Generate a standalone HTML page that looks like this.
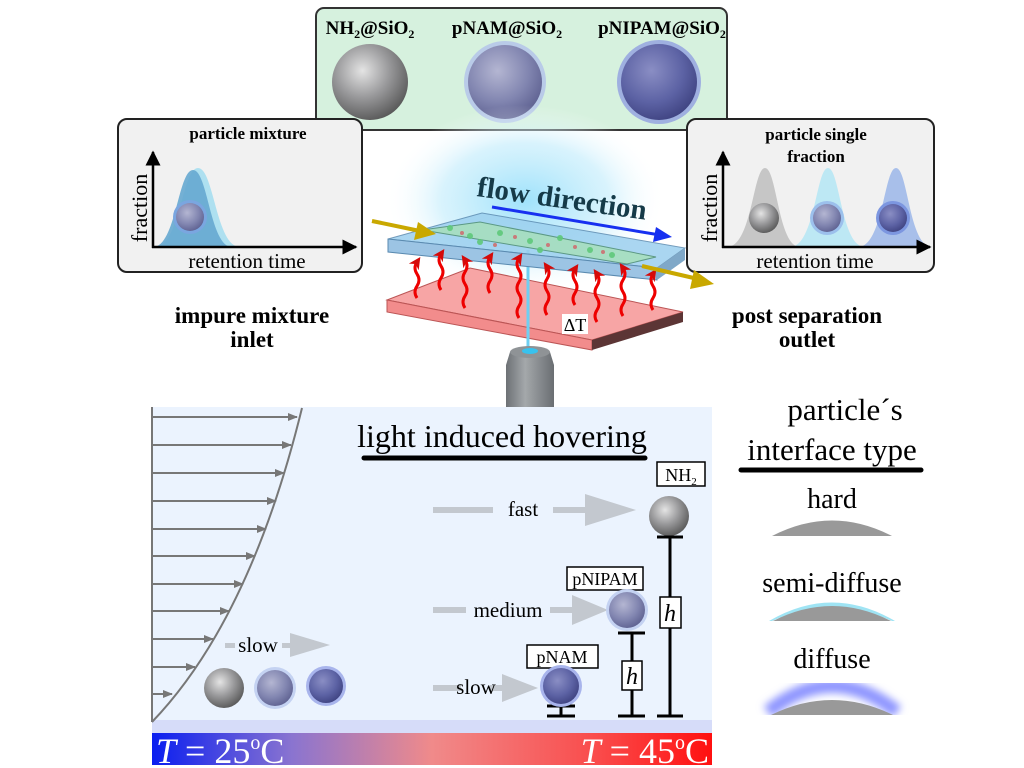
<!DOCTYPE html>
<html><head><meta charset="utf-8"><style>body{margin:0;background:#fff}svg{display:block}text{font-family:"Liberation Serif",serif}</style></head>
<body>
<svg width="1024" height="768" viewBox="0 0 1024 768" xmlns="http://www.w3.org/2000/svg">
<defs>
<radialGradient id="g1" cx="0.4" cy="0.35" r="0.7"><stop offset="0" stop-color="#e4e4e4"/><stop offset="0.5" stop-color="#9a9a9c"/><stop offset="1" stop-color="#555"/></radialGradient>
<radialGradient id="g2" cx="0.4" cy="0.35" r="0.7"><stop offset="0" stop-color="#b4b6d2"/><stop offset="0.6" stop-color="#8185b0"/><stop offset="1" stop-color="#5d6090"/></radialGradient>
<radialGradient id="g3" cx="0.4" cy="0.35" r="0.7"><stop offset="0" stop-color="#8a8ec4"/><stop offset="0.6" stop-color="#5c62a4"/><stop offset="1" stop-color="#3e4280"/></radialGradient>
<radialGradient id="glow" cx="0.5" cy="0.5" r="0.5"><stop offset="0" stop-color="#9fe2fb"/><stop offset="0.6" stop-color="#c8eefc" stop-opacity="0.7"/><stop offset="1" stop-color="#fff" stop-opacity="0"/></radialGradient>
<linearGradient id="tb" x1="0" x2="1"><stop offset="0" stop-color="#0a1ef0"/><stop offset="0.25" stop-color="#8a74d0"/><stop offset="0.5" stop-color="#f08a8a"/><stop offset="0.8" stop-color="#fa4a4a"/><stop offset="1" stop-color="#ff1010"/></linearGradient>
<linearGradient id="obj" x1="0" x2="1"><stop offset="0" stop-color="#6d7175"/><stop offset="0.4" stop-color="#a4a8ab"/><stop offset="1" stop-color="#6a6e72"/></linearGradient>
<filter id="blur"><feGaussianBlur stdDeviation="4"/></filter>
<marker id="ah" viewBox="0 0 10 10" refX="9" refY="5" markerWidth="6" markerHeight="6" orient="auto"><path d="M0,0L10,5L0,10z" fill="#000"/></marker>
<marker id="ag" viewBox="0 0 10 10" refX="9" refY="5" markerWidth="5" markerHeight="5" orient="auto"><path d="M0,1L10,5L0,9z" fill="#777"/></marker>
<marker id="ar" viewBox="0 0 10 10" refX="5" refY="5" markerWidth="4" markerHeight="4" orient="auto"><path d="M0,0L10,5L0,10L3,5z" fill="#d40a0a"/></marker>
</defs>

<rect x="316" y="8" width="411" height="122" rx="8" fill="#d6f1de" stroke="#333" stroke-width="2"/>
<text x="370" y="34" font-size="19" font-weight="bold" text-anchor="middle">NH<tspan font-size="12" dy="4">2</tspan><tspan dy="-4">@SiO</tspan><tspan font-size="12" dy="4">2</tspan></text>
<text x="507" y="34" font-size="19" font-weight="bold" text-anchor="middle">pNAM@SiO<tspan font-size="12" dy="4">2</tspan></text>
<text x="662" y="34" font-size="19" font-weight="bold" text-anchor="middle">pNIPAM@SiO<tspan font-size="12" dy="4">2</tspan></text>
<circle cx="370" cy="82" r="38" fill="url(#g1)"/>
<circle cx="505" cy="82" r="41" fill="#b9cbe8"/><circle cx="505" cy="82" r="37" fill="url(#g2)"/>
<circle cx="659" cy="82" r="42" fill="#9fb0e0"/><circle cx="659" cy="82" r="38" fill="url(#g3)"/>

<rect x="118" y="119" width="244" height="153" rx="9" fill="#f1f1f1" stroke="#222" stroke-width="2"/>
<text x="248" y="139" font-size="17" font-weight="bold" text-anchor="middle">particle mixture</text>
<path d="M155,247 C180,247 182,168 198,168 C214,168 216,247 240,247Z" fill="#aee0f0"/>
<path d="M153,247 C176,247 178,170 193,170 C208,170 210,247 232,247Z" fill="#66a8d0" opacity="0.9"/>
<circle cx="190" cy="217" r="17" fill="#7aa6e0"/><circle cx="190" cy="217" r="14" fill="url(#g2)"/>
<line x1="153" y1="248" x2="153" y2="152" stroke="#000" stroke-width="2.5" marker-end="url(#ah)"/>
<line x1="152" y1="247" x2="356" y2="247" stroke="#000" stroke-width="2.5" marker-end="url(#ah)"/>
<text transform="translate(147,208) rotate(-90)" font-size="22" text-anchor="middle">fraction</text>
<text x="247" y="268" font-size="21" text-anchor="middle">retention time</text>
<text x="252" y="323" font-size="23" font-weight="bold" text-anchor="middle">impure mixture</text>
<text x="252" y="347" font-size="23" font-weight="bold" text-anchor="middle">inlet</text>

<rect x="687" y="119" width="247" height="153" rx="9" fill="#f1f1f1" stroke="#222" stroke-width="2"/>
<text x="816" y="140" font-size="17" font-weight="bold" text-anchor="middle">particle single</text>
<text x="816" y="162" font-size="17" font-weight="bold" text-anchor="middle">fraction</text>
<path d="M727,247 C752,247 753,168 765,168 C777,168 778,247 800,247Z" fill="#c6c6c6"/>
<path d="M790,247 C815,247 816,168 828,168 C840,168 841,247 865,247Z" fill="#bde8f4"/>
<path d="M858,247 C883,247 884,168 896,168 C908,168 909,247 932,247Z" fill="#a8bfea"/>
<circle cx="764" cy="218" r="15" fill="url(#g1)"/>
<circle cx="827" cy="218" r="17" fill="#9cc0ec"/><circle cx="827" cy="218" r="14" fill="url(#g2)"/>
<circle cx="893" cy="218" r="17" fill="#7c96e0"/><circle cx="893" cy="218" r="14" fill="url(#g3)"/>
<line x1="723" y1="248" x2="723" y2="152" stroke="#000" stroke-width="2.5" marker-end="url(#ah)"/>
<line x1="722" y1="247" x2="930" y2="247" stroke="#000" stroke-width="2.5" marker-end="url(#ah)"/>
<text transform="translate(717,208) rotate(-90)" font-size="22" text-anchor="middle">fraction</text>
<text x="815" y="268" font-size="21" text-anchor="middle">retention time</text>
<text x="807" y="323" font-size="23" font-weight="bold" text-anchor="middle">post separation</text>
<text x="807" y="347" font-size="23" font-weight="bold" text-anchor="middle">outlet</text>

<ellipse cx="525" cy="200" rx="140" ry="95" fill="url(#glow)"/>
<path d="M387,300 L470,268 L683,312 L592,340Z" fill="#f7a5a5" stroke="#b55" stroke-width="1"/>
<path d="M387,300 L592,340 L592,350 L387,312Z" fill="#f28c8c" stroke="#b55" stroke-width="1"/>
<path d="M592,340 L683,312 L683,322 L592,350Z" fill="#5c3535"/>
<rect x="562" y="314" width="26" height="20" fill="#fff"/>
<text x="575" y="331" font-size="18" text-anchor="middle">ΔT</text>
<line x1="528" y1="250" x2="528" y2="352" stroke="#6fcff2" stroke-width="3"/>
<path d="M510,352 L550,352 L554,365 L554,418 L506,418 L506,365Z" fill="url(#obj)"/>
<ellipse cx="530" cy="352" rx="20" ry="6" fill="#8f9396"/>
<ellipse cx="530" cy="351" rx="8" ry="3" fill="#38c2ee"/>
<path d="M388,239 L482,213 L685,248 L657,268Z" fill="#9cd0ef" opacity="0.85" stroke="#5a8ab0"/>
<path d="M388,239 L657,268 L657,280 L388,252Z" fill="#9cc4e4" stroke="#5a8ab0"/>
<path d="M657,268 L685,248 L685,260 L657,280Z" fill="#7fa8c8"/>
<path d="M422,230 L480,222 L656,257 L627,264Z" fill="#a7e0b8" opacity="0.8" stroke="#4a8a6a" stroke-width="1"/>
<g fill="#5fc87a" opacity="0.9">
<circle cx="450" cy="228" r="3"/><circle cx="470" cy="236" r="3"/><circle cx="500" cy="233" r="3"/><circle cx="530" cy="241" r="3"/><circle cx="560" cy="238" r="3"/><circle cx="590" cy="250" r="3"/><circle cx="612" cy="255" r="3"/><circle cx="540" cy="250" r="3"/><circle cx="480" cy="242" r="3"/></g>
<g fill="#c97a7a"><circle cx="462" cy="233" r="2"/><circle cx="515" cy="237" r="2"/><circle cx="548" cy="245" r="2"/><circle cx="575" cy="247" r="2"/><circle cx="603" cy="252" r="2"/><circle cx="495" cy="245" r="2"/></g>
<g fill="none" stroke="#e00" stroke-width="3" marker-end="url(#ar)">
<path d="M417,298 q-4,-6 0,-12 q4,-6 0,-12 q-4,-6 0,-12"/>
<path d="M441,290 q-4,-6 0,-12 q4,-6 0,-12 q-4,-6 0,-12"/>
<path d="M465,308 q-4,-6 0,-12 q4,-6 0,-12 q-4,-6 0,-12 q4,-6 0,-12"/>
<path d="M490,293 q-4,-6 0,-12 q4,-6 0,-12 q-4,-6 0,-12"/>
<path d="M519,318 q-4,-6 0,-12 q4,-6 0,-12 q-4,-6 0,-12 q4,-6 0,-12 q-4,-6 0,-12"/>
<path d="M547,315 q-4,-6 0,-12 q4,-6 0,-12 q-4,-6 0,-12 q4,-6 0,-12"/>
<path d="M575,305 q-4,-6 0,-12 q4,-6 0,-12 q-4,-6 0,-12"/>
<path d="M597,322 q-4,-6 0,-12 q4,-6 0,-12 q-4,-6 0,-12 q4,-6 0,-12"/>
<path d="M623,316 q-4,-6 0,-12 q4,-6 0,-12 q-4,-6 0,-12 q4,-6 0,-12"/>
<path d="M653,310 q-4,-6 0,-12 q4,-6 0,-12 q-4,-6 0,-12"/>
</g>
<line x1="372" y1="221" x2="420" y2="231" stroke="#c9a800" stroke-width="4"/><path d="M418,222 L436,234 L414,240Z" fill="#c9a800"/>
<line x1="642" y1="266" x2="698" y2="279" stroke="#c9a800" stroke-width="4"/><path d="M694,270 L714,284 L690,289Z" fill="#c9a800"/>
<text transform="translate(476,196) rotate(8)" font-size="29" font-weight="bold" fill="#153a48">flow direction</text>
<line x1="492" y1="207" x2="660" y2="235" stroke="#1730f0" stroke-width="3"/><path d="M656,227 L672,237 L653,242Z" fill="#1730f0"/>

<rect x="152" y="407" width="560" height="315" fill="#ebf3fe"/>
<rect x="152" y="720" width="560" height="13" fill="#d6dcf9"/>
<rect x="152" y="733" width="560" height="32" fill="url(#tb)"/>
<text x="156" y="763" font-size="36" fill="#fff"><tspan font-style="italic">T</tspan> = 25<tspan font-size="20" dy="-14">o</tspan><tspan dy="14">C</tspan></text>
<text x="709" y="763" font-size="36" fill="#fff" text-anchor="end"><tspan font-style="italic">T</tspan> = 45<tspan font-size="20" dy="-14">o</tspan><tspan dy="14">C</tspan></text>
<line x1="152" y1="407" x2="152" y2="722" stroke="#777" stroke-width="2"/>
<path d="M302,408 Q250,620 152,722" fill="none" stroke="#777" stroke-width="2"/>
<g stroke="#777" stroke-width="2" marker-end="url(#ag)">
<line x1="152" y1="417" x2="297" y2="417"/><line x1="152" y1="445" x2="291" y2="445"/><line x1="152" y1="473" x2="284" y2="473"/><line x1="152" y1="501" x2="276" y2="501"/><line x1="152" y1="529" x2="266" y2="529"/><line x1="152" y1="556" x2="255" y2="556"/><line x1="152" y1="584" x2="243" y2="584"/><line x1="152" y1="611" x2="229" y2="611"/><line x1="152" y1="639" x2="213" y2="639"/><line x1="152" y1="667" x2="195" y2="667"/><line x1="152" y1="694" x2="172" y2="694"/></g>
<text x="502" y="447" font-size="32" text-anchor="middle">light induced hovering</text>
<line x1="364" y1="458" x2="645" y2="458" stroke="#000" stroke-width="5" stroke-linecap="round"/>
<g fill="#c3c8cf">
<rect x="225" y="643" width="10" height="5"/><rect x="282" y="643" width="10" height="5"/><path d="M290,633 L330,645 L290,657Z"/>
<rect x="433" y="507" width="60" height="6"/><rect x="553" y="507" width="35" height="6"/><path d="M585,494 L636,510 L585,526Z"/>
<rect x="433" y="607" width="33" height="6"/><rect x="550" y="607" width="25" height="6"/><path d="M572,595 L608,610 L572,625Z"/>
<rect x="433" y="685" width="28" height="6"/><rect x="490" y="685" width="15" height="6"/><path d="M502,674 L538,688 L502,702Z"/></g>
<text x="258" y="652" font-size="21" text-anchor="middle">slow</text>
<text x="523" y="516" font-size="21" text-anchor="middle">fast</text>
<text x="508" y="617" font-size="21" text-anchor="middle">medium</text>
<text x="476" y="694" font-size="21" text-anchor="middle">slow</text>
<circle cx="224" cy="688" r="20" fill="url(#g1)"/>
<circle cx="275" cy="688" r="21" fill="#c4d2f2"/><circle cx="275" cy="688" r="18" fill="url(#g2)"/>
<circle cx="326" cy="686" r="20" fill="#a8b4ec"/><circle cx="326" cy="686" r="17" fill="url(#g3)"/>
<rect x="657" y="462" width="48" height="24" fill="#fff" stroke="#000" stroke-width="1.5"/>
<text x="681" y="481" font-size="18" text-anchor="middle">NH<tspan font-size="11" dy="4">2</tspan></text>
<circle cx="669" cy="516" r="20" fill="url(#g1)"/>
<g stroke="#000" stroke-width="3"><line x1="657" y1="537" x2="683" y2="537"/><line x1="670" y1="537" x2="670" y2="716"/><line x1="657" y1="716" x2="683" y2="716"/>
<line x1="618" y1="633" x2="645" y2="633"/><line x1="632" y1="633" x2="632" y2="716"/><line x1="618" y1="716" x2="645" y2="716"/>
<line x1="547" y1="706" x2="575" y2="706"/><line x1="561" y1="706" x2="561" y2="716"/><line x1="547" y1="716" x2="575" y2="716"/></g>
<rect x="660" y="597" width="21" height="31" fill="#fff" stroke="#000" stroke-width="1.5"/><text x="670" y="621" font-size="24" font-style="italic" text-anchor="middle">h</text>
<rect x="622" y="661" width="20" height="29" fill="#fff" stroke="#000" stroke-width="1.5"/><text x="632" y="684" font-size="24" font-style="italic" text-anchor="middle">h</text>
<rect x="567" y="567" width="76" height="23" fill="#fff" stroke="#000" stroke-width="1.5"/><text x="605" y="585" font-size="18" text-anchor="middle">pNIPAM</text>
<circle cx="627" cy="610" r="21" fill="#c4d2f2"/><circle cx="627" cy="610" r="18" fill="url(#g2)"/>
<rect x="527" y="645" width="71" height="23" fill="#fff" stroke="#000" stroke-width="1.5"/><text x="562" y="663" font-size="18" text-anchor="middle">pNAM</text>
<circle cx="561" cy="686" r="21" fill="#a8b4ec"/><circle cx="561" cy="686" r="18" fill="url(#g3)"/>

<text x="845" y="420" font-size="31" text-anchor="middle">particle´s</text>
<text x="832" y="460" font-size="31" text-anchor="middle">interface type</text>
<line x1="741" y1="470" x2="921" y2="470" stroke="#000" stroke-width="5" stroke-linecap="round"/>
<text x="832" y="508" font-size="28" text-anchor="middle">hard</text>
<path d="M772,536 Q832,505 892,536Z" fill="#999"/>
<text x="832" y="592" font-size="28" text-anchor="middle">semi-diffuse</text>
<path d="M769,621 Q832,584 895,621 L892,621 Q832,594 772,621Z" fill="#9fe4f4"/>
<path d="M773,621 Q832,591 891,621Z" fill="#999"/>
<text x="832" y="668" font-size="28" text-anchor="middle">diffuse</text>
<path d="M768,712 Q832,660 897,712" fill="none" stroke="#8f96ff" stroke-width="14" filter="url(#blur)"/>
<path d="M771,715 Q832,685 893,715Z" fill="#999"/>
</svg>
</body></html>
